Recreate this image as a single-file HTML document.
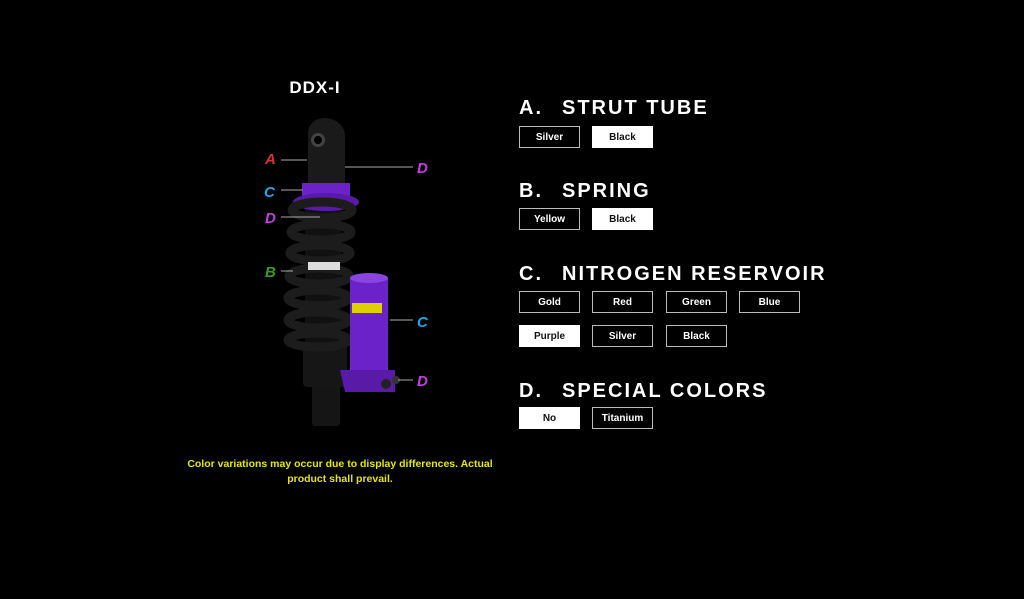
<!DOCTYPE html>
<html><head><meta charset="utf-8"><style>
html,body{margin:0;padding:0;background:#000;width:1024px;height:599px;overflow:hidden;font-family:"Liberation Sans",sans-serif;color:#fff}
.h{position:absolute;left:519px;font-weight:bold;font-size:20px;letter-spacing:2px;line-height:20px;white-space:nowrap}
.h span{position:absolute;left:43px}
.b{position:absolute;width:59px;height:20px;border:1px solid #bbb;font-size:10px;font-weight:bold;text-align:center;line-height:22px;color:#fff}
.b.s{background:#fff;color:#111;border-color:#fff}
.t{position:absolute;width:400px;left:140px;text-align:center;color:#e6e600;font-size:10.5px;font-weight:bold;line-height:15px}
</style></head><body>
<svg width="1024" height="599" style="position:absolute;left:0;top:0">
<text x="315" y="93" fill="#fff" font-family="Liberation Sans" font-weight="bold" font-size="17" text-anchor="middle" letter-spacing="1">DDX-I</text>
<rect x="305" y="205" width="36" height="180" fill="#111"/>
<rect x="312" y="380" width="28" height="46" rx="3" fill="#151515"/>
<rect x="303" y="345" width="44" height="42" rx="4" fill="#161616"/>
<path d="M308 185 L308 132 Q310 118 326 118 Q343 120 345 135 L345 185 Z" fill="#1a1a1a"/>
<circle cx="318" cy="140" r="7" fill="#444"/><circle cx="318" cy="140" r="4" fill="#000"/>
<rect x="302" y="183" width="48" height="20" fill="#6b22c8"/>
<ellipse cx="326" cy="202" rx="33" ry="9" fill="#5a1aa8"/>
<g fill="none" stroke="#1c1c1c" stroke-width="9">
<ellipse cx="322" cy="210" rx="30" ry="8"/>
<ellipse cx="321" cy="232" rx="30" ry="8"/>
<ellipse cx="320" cy="253" rx="30" ry="8"/>
<ellipse cx="319" cy="276" rx="30" ry="8"/>
<ellipse cx="318" cy="298" rx="30" ry="8"/>
<ellipse cx="318" cy="320" rx="30" ry="8"/>
<ellipse cx="318" cy="340" rx="30" ry="7"/>
</g>
<rect x="308" y="262" width="32" height="8" fill="#ddd"/>
<rect x="350" y="278" width="38" height="98" fill="#6b22c8"/>
<ellipse cx="369" cy="278" rx="19" ry="5" fill="#8a44e0"/>
<rect x="352" y="303" width="30" height="10" fill="#e0d000"/>
<path d="M340 370 L395 370 L395 392 L345 392 Z" fill="#5a1aa8"/>
<circle cx="386" cy="384" r="5" fill="#222"/><circle cx="396" cy="380" r="4" fill="#333"/>
<g stroke="#aaa" stroke-width="1">
<line x1="281" y1="160" x2="307" y2="160"/>
<line x1="345" y1="167" x2="413" y2="167"/>
<line x1="281" y1="190" x2="303" y2="190"/>
<line x1="281" y1="217" x2="320" y2="217"/>
<line x1="281" y1="271" x2="293" y2="271"/>
<line x1="390" y1="320" x2="413" y2="320"/>
<line x1="398" y1="380" x2="413" y2="380"/>
</g>
<g font-family="Liberation Sans" font-weight="bold" font-style="italic" font-size="15">
<text x="265" y="164" fill="#d83434">A</text>
<text x="417" y="173" fill="#c43ee0">D</text>
<text x="264" y="197" fill="#22a4e6">C</text>
<text x="265" y="223" fill="#c43ee0">D</text>
<text x="265" y="277" fill="#3c9a2c">B</text>
<text x="417" y="327" fill="#22a4e6">C</text>
<text x="417" y="386" fill="#c43ee0">D</text>
</g>
</svg>
<div class="t" style="top:457px">Color variations may occur due to display differences. Actual<br>product shall prevail.</div>

<div class="h" style="top:98px">A.<span>STRUT TUBE</span></div>
<div class="b" style="left:519px;top:126px">Silver</div>
<div class="b s" style="left:592px;top:126px">Black</div>

<div class="h" style="top:181px">B.<span>SPRING</span></div>
<div class="b" style="left:519px;top:208px">Yellow</div>
<div class="b s" style="left:592px;top:208px">Black</div>

<div class="h" style="top:264px">C.<span>NITROGEN RESERVOIR</span></div>
<div class="b" style="left:519px;top:291px">Gold</div>
<div class="b" style="left:592px;top:291px">Red</div>
<div class="b" style="left:666px;top:291px">Green</div>
<div class="b" style="left:739px;top:291px">Blue</div>
<div class="b s" style="left:519px;top:325px">Purple</div>
<div class="b" style="left:592px;top:325px">Silver</div>
<div class="b" style="left:666px;top:325px">Black</div>

<div class="h" style="top:381px">D.<span>SPECIAL COLORS</span></div>
<div class="b s" style="left:519px;top:407px">No</div>
<div class="b" style="left:592px;top:407px">Titanium</div>
</body></html>
